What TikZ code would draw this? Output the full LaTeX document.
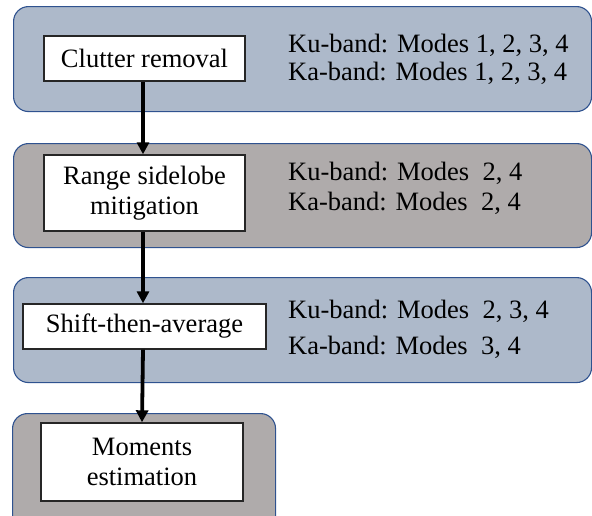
\documentclass[tikz,border=0pt]{standalone}
\usepackage{fontspec}
\setmainfont{Liberation Serif}
\usepackage{tikz}
\usetikzlibrary{arrows.meta, positioning}
\definecolor{panelblue}{RGB}{173, 185, 202}
\definecolor{panelgray}{RGB}{175, 171, 171}
\definecolor{edgeblue}{RGB}{47, 82, 143}

\begin{document}
\begin{tikzpicture}[
    x=1pt, y=-1pt,
    panel/.style={draw=edgeblue, line width=1.1pt, rounded corners=15pt, anchor=north west, inner sep=0pt},
    stage/.style={draw=black!85, line width=1.4pt, fill=white, align=center, inner sep=0pt, font=\fontsize{26.5}{29.5}\selectfont},
    modes/.style={anchor=west, inner sep=0pt, font=\fontsize{26.5}{29}\selectfont},
    arrow/.style={-{Triangle[length=12pt, width=12pt]}, line width=3.8pt}
]
    \useasboundingbox (0,0) rectangle (592,515);
    \clip (0,0) rectangle (592,515);

    % Panels
    \node[panel, fill=panelblue, minimum width=578pt, minimum height=105pt] (p1) at (13,6) {};
    \node[panel, fill=panelgray, minimum width=578pt, minimum height=104pt] (p2) at (13,143) {};
    \node[panel, fill=panelblue, minimum width=578pt, minimum height=105pt] (p3) at (13,277) {};
    \node[panel, fill=panelgray, minimum width=263pt, minimum height=120pt] (p4) at (12,413) {};

    % Nodes
    \node[stage, minimum width=201pt, minimum height=45pt] (clutter) at (144.5,58.5) {Clutter removal};
    \node[stage, minimum width=201pt, minimum height=76pt] (sidelobe) at (144.5,193) {Range sidelobe\\mitigation};
    \node[stage, minimum width=243pt, minimum height=45pt] (shift) at (144.5,326.5) {Shift-then-average};
    \node[stage, minimum width=202pt, minimum height=78pt] (moments) at (142,462) {Moments\\estimation};

    % Mode lists
    \node[modes] (ku1) at (288,45) {Ku-band: Modes 1, 2, 3, 4};
    \node[modes] (ka1) at (288,73) {Ka-band: Modes 1, 2, 3, 4};
    \node[modes] (ku2) at (288,173) {Ku-band: Modes~~2, 4};
    \node[modes] (ka2) at (288,203) {Ka-band: Modes~~2, 4};
    \node[modes] (ku3) at (288,311) {Ku-band: Modes~~2, 3, 4};
    \node[modes] (ka3) at (288,347) {Ka-band: Modes~~3, 4};

    % Arrows
    \draw[arrow] ([xshift=-1.5pt]clutter.south) -- ([xshift=-1.5pt]sidelobe.north);
    \draw[arrow] ([xshift=-1.5pt]sidelobe.south) -- ([xshift=-1.5pt]shift.north);
    \draw[arrow] ([xshift=-1.5pt]shift.south) -- (moments.north);
\end{tikzpicture}
\end{document}
